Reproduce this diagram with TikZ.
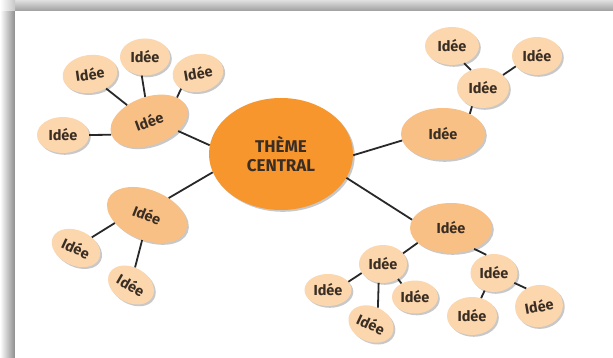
\documentclass[tikz,border=0pt]{standalone}
\usepackage{fontspec}
\setmainfont{Fira Sans}
\usetikzlibrary{shapes.geometric,shadows}
\definecolor{orangeC}{RGB}{247,150,44}
\definecolor{hubC}{RGB}{249,192,133}
\definecolor{leafC}{RGB}{252,214,172}
\definecolor{txtC}{RGB}{58,46,36}
\definecolor{lineC}{RGB}{40,40,40}
\tikzset{
  bubble/.style={ellipse, inner sep=0pt, text=txtC,
    font=\bfseries\fontsize{14.5}{16}\selectfont,
    drop shadow={shadow xshift=1.8pt, shadow yshift=-1.8pt, opacity=0.3, fill=black!70}},
  leaf/.style={bubble, fill=leafC},
  hub/.style={bubble, fill=hubC},
  central/.style={bubble, fill=orangeC, font=\bfseries\fontsize{17}{19}\selectfont, align=center},
  link/.style={draw=lineC, line width=1.8pt},
  sz/.style 2 args={minimum width=#1pt, minimum height=#2pt},
}
\begin{document}
\begin{tikzpicture}[x=1pt,y=-1pt]
\useasboundingbox (0,0) rectangle (613,358);
% frame
\shade[left color=white, right color=black!45] (0,11) rectangle (15,358);
\shade[top color=black!12, bottom color=black!38] (15,0) rectangle (613,11);
\shade[left color=white, right color=black!22] (0,0) rectangle (15,11);
\fill[white] (15,11) rectangle (613,358);

% central
\node[central, sz={144}{112}] (C) at (281,154) {THÈME\\CENTRAL};

% top-left cluster
\node[hub, sz={80}{48}, rotate=20] (h1) at (149,121) {Idée};
\node[leaf, sz={52}{36}] (l1) at (63,135) {Idée};
\node[leaf, sz={55}{38}, rotate=8] (t1) at (90,74) {Idée};
\node[leaf, sz={50}{37}] (t2) at (145,57) {Idée};
\node[leaf, sz={51}{38}, rotate=10] (t3) at (198,73) {Idée};

% top-right cluster
\node[hub, sz={84}{52}] (R) at (443,134) {Idée};
\node[leaf, sz={52}{40}] (Rm) at (483,88) {Idée};
\node[leaf, sz={54}{38}] (Rt) at (452,46) {Idée};
\node[leaf, sz={50}{38}] (Rr) at (537,56) {Idée};

% bottom-left cluster
\node[hub, sz={84}{50}, rotate=-22] (B) at (147,215) {Idée};
\node[leaf, sz={51}{35}, rotate=-25] (Bl) at (76,248) {Idée};
\node[leaf, sz={49}{35}, rotate=-30] (Bb) at (131,285) {Idée};

% bottom-right cluster
\node[hub, sz={82}{50}] (D) at (451,228) {Idée};
\node[leaf, sz={48}{38}] (D1) at (383,264) {Idée};
\node[leaf, sz={47}{38}] (D2) at (494,273) {Idée};
\node[leaf, sz={47}{32}] (D1a) at (328,290) {Idée};
\node[leaf, sz={47}{35}, rotate=-25] (D1b) at (371,324) {Idée};
\node[leaf, sz={46}{33}] (D1c) at (415,297) {Idée};
\node[leaf, sz={50}{38}] (D2a) at (472,316) {Idée};
\node[leaf, sz={48}{42}, rotate=10] (D2b) at (539,306) {Idée};

% connectors
\draw[link] (C.173) -- (h1.-39);
\draw[link] (h1.180) -- (l1.0);
\draw[link] (h1.124) -- (t1.-50);
\draw[link] (h1.79) -- (t2.-100);
\draw[link] (h1.20.6) -- (t3.213);

\draw[link] (C.-1) -- (R.189.7);
\draw[link] (R.37) -- (Rm.239.5);
\draw[link] (Rm.124.5) -- (Rt.-55.5);
\draw[link] (Rm.33) -- (Rr.206.6);

\draw[link] (C.195.6) -- (B.60);
\draw[link] (B.216) -- (Bl.59.5);
\draw[link] (B.281.5) -- (Bb.107.5);

\draw[link] (C.-20.7) -- (D.168.4);
\draw[link] (D.204) -- (D1.28.6);
\draw[link] (D.-42.5) -- (D2.113.6);
\draw[link] (D1.203) -- (D1a.22.8);
\draw[link] (D1.257.5) -- (D1b.92.4);
\draw[link] (D1.-45) -- (D1c.135);
\draw[link] (D2.242) -- (D2a.63.4);
\draw[link] (D2.-26.6) -- (D2b.116);
\end{tikzpicture}
\end{document}
